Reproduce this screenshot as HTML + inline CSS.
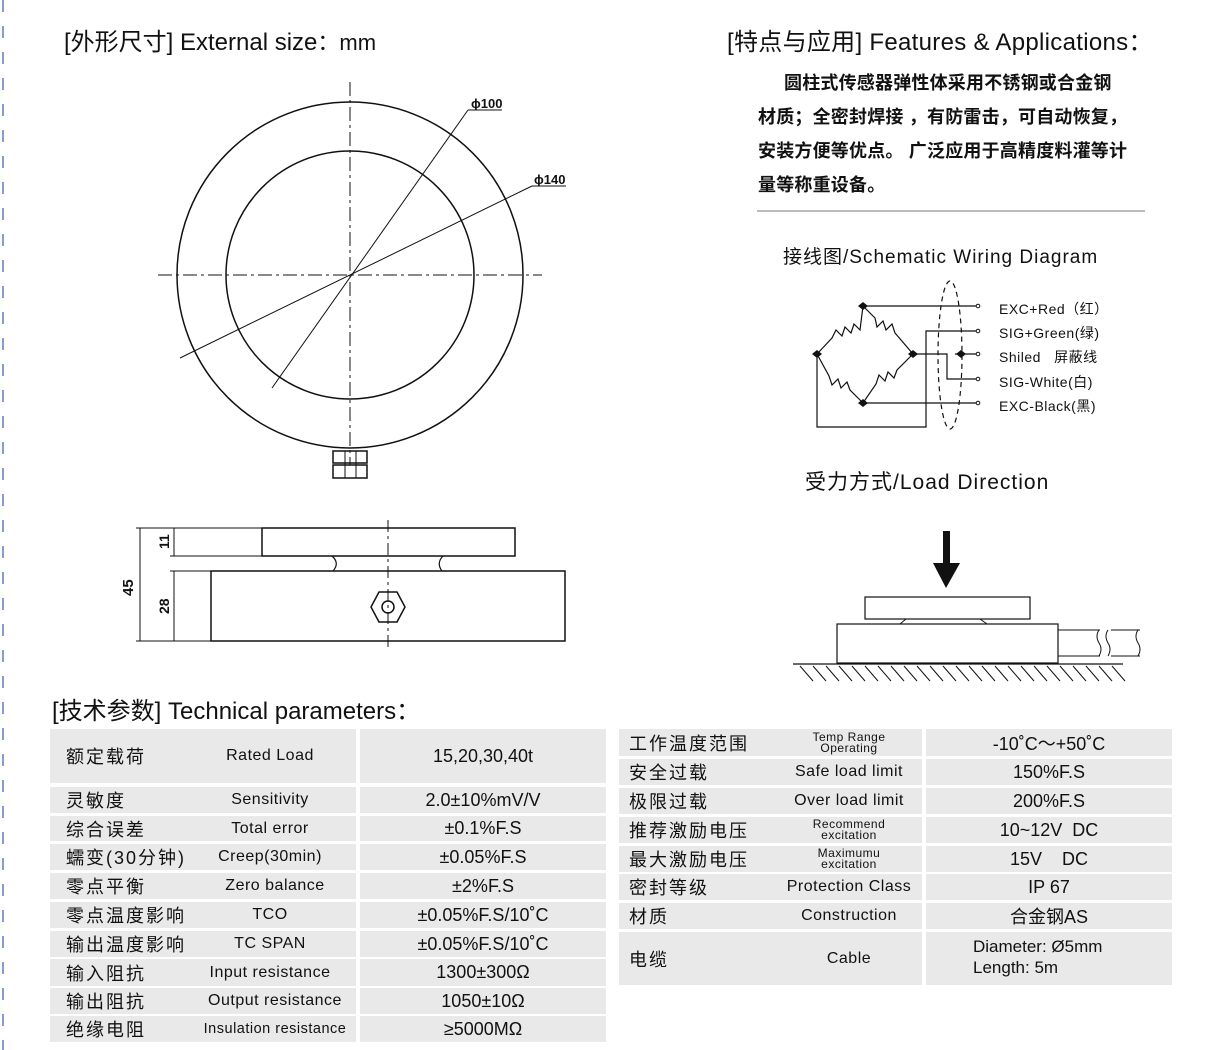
<!DOCTYPE html>
<html><head><meta charset="utf-8"><style>
body{margin:0;width:1230px;height:1050px;background:#fff;position:relative;overflow:hidden;font-family:"Liberation Sans","Noto Sans CJK SC",sans-serif;color:#111}
.t{position:absolute;white-space:nowrap}
.c{position:absolute;background:#e9e9e9;display:flex;align-items:center;font-size:17px}
.cn{position:absolute;left:16px;letter-spacing:2px;font-size:18px;top:50%;transform:translateY(-50%)}
.en{position:absolute;text-align:center;font-size:16px;letter-spacing:0.5px;top:50%;transform:translateY(-50%)}
.v{justify-content:center;font-size:18px}
svg{position:absolute;left:0;top:0}
</style></head><body>
<svg width="1230" height="1050" viewBox="0 0 1230 1050" fill="none" stroke="#111">
<line x1="3" y1="0" x2="3" y2="1050" stroke="#5a7fc0" stroke-width="1.5" stroke-dasharray="12,14"/>
<circle cx="350" cy="275" r="173" stroke-width="1.5"/>
<circle cx="350" cy="275" r="124" stroke-width="1.5"/>
<line x1="158" y1="275" x2="542" y2="275" stroke-dasharray="14,4,3,4" stroke-width="1"/>
<line x1="350" y1="82" x2="350" y2="465" stroke-dasharray="14,4,3,4" stroke-width="1"/>
<line x1="272" y1="388" x2="468" y2="110" stroke-width="1"/>
<line x1="468" y1="110" x2="502" y2="110" stroke-width="1"/>
<line x1="180" y1="358" x2="532" y2="186" stroke-width="1"/>
<line x1="532" y1="186" x2="566" y2="186" stroke-width="1"/>
<rect x="333" y="451" width="34" height="12" stroke-width="1.5"/>
<rect x="333" y="465" width="34" height="13" stroke-width="1.5"/>
<line x1="345" y1="451" x2="345" y2="478"/><line x1="356" y1="451" x2="356" y2="478"/>
<rect x="262" y="528" width="253" height="28" stroke-width="1.5"/>
<rect x="211" y="571" width="354" height="70" stroke-width="1.5"/>
<path d="M332 556 Q340 563 333 571 M443 556 Q436 563 442 571" stroke-width="1.2"/>
<line x1="388" y1="520" x2="388" y2="650" stroke-dasharray="12,4,3,4"/>
<polygon points="379,592 397,592 405,607 397,622 379,622 371,607" stroke-width="1.5"/>
<circle cx="388" cy="607" r="6" stroke-width="1.5"/>
<line x1="136" y1="528" x2="262" y2="528"/><line x1="170" y1="556" x2="262" y2="556"/>
<line x1="170" y1="571" x2="211" y2="571"/><line x1="136" y1="641" x2="211" y2="641"/>
<line x1="140" y1="528" x2="140" y2="641"/><line x1="174" y1="528" x2="174" y2="556"/><line x1="174" y1="571" x2="174" y2="641"/>
<g stroke-width="1.2">
<path d="M817 354 L832 338 l4 -8 l6 6 l3 -9 l6 6 l3 -9 l6 6 L863 306 L875 318 l2 9 l6 -6 l3 9 l6 -6 l3 9 L913 354 L897 370 l-3 8 l-6 -6 l-3 9 l-6 -6 l-3 9 L863 403 L850 390 l-3 -8 l-6 6 l-3 -9 l-6 6 l-3 -9 Z"/>
<path d="M863 306 H977 M817 354 V427 H926 V331 H977 M913 354 H947 V379 H977 M863 403 H977 M955 354 H977"/>
<ellipse cx="950" cy="355" rx="12" ry="74" stroke-dasharray="5,4"/>
</g>
<g fill="#fff"><circle cx="978" cy="306" r="1.8"/><circle cx="978" cy="331" r="1.8"/><circle cx="978" cy="354" r="1.8"/><circle cx="978" cy="379" r="1.8"/><circle cx="978" cy="403" r="1.8"/></g>
<g fill="#111" stroke="none"><path d="M863 302 l5 4 -5 4 -5 -4z M817 350 l5 4 -5 4 -5 -4z M913 350 l5 4 -5 4 -5 -4z M863 399 l5 4 -5 4 -5 -4z M961 350 l5 4 -5 4 -5 -4z"/></g>
<rect x="943" y="531" width="7" height="33" fill="#111" stroke="none"/>
<polygon points="933,563 960,563 946,588" fill="#111" stroke="none"/>
<rect x="865" y="597" width="165" height="22" stroke-width="1.2"/>
<path d="M906 619 L900 624 M980 619 L987 624" stroke-width="1"/>
<rect x="837" y="624" width="221" height="39" stroke-width="1.2"/>
<path d="M1058 630 H1100 M1058 656 H1100 M1111 630 H1140 M1111 656 H1140" stroke-width="1"/>
<path d="M1099 630 q-4 6 0 13 q4 6 0 13 M1108 630 q-4 6 0 13 q4 6 0 13 M1138 630 q-4 6 0 13 q4 6 0 13" stroke-width="1"/>
<line x1="793" y1="664" x2="1123" y2="664" stroke-width="1.2"/>
<path d="M800 666 l13 15 M813 666 l13 15 M826 666 l13 15 M839 666 l13 15 M852 666 l13 15 M865 666 l13 15 M878 666 l13 15 M891 666 l13 15 M904 666 l13 15 M917 666 l13 15 M930 666 l13 15 M943 666 l13 15 M956 666 l13 15 M969 666 l13 15 M982 666 l13 15 M995 666 l13 15 M1008 666 l13 15 M1021 666 l13 15 M1034 666 l13 15 M1047 666 l13 15 M1060 666 l13 15 M1073 666 l13 15 M1086 666 l13 15 M1099 666 l13 15 M1112 666 l13 15" stroke-width="1"/>
<line x1="757" y1="211" x2="1145" y2="211" stroke="#777"/>
<g fill="#111" stroke="none" font-family="Liberation Sans" font-size="14" font-weight="bold">
<text x="471" y="108" font-size="13">ϕ100</text>
<text x="534" y="184" font-size="13">ϕ140</text>
<text transform="translate(133,596) rotate(-90)" font-size="15">45</text>
<text transform="translate(169,549) rotate(-90)" font-size="14">11</text>
<text transform="translate(169,614) rotate(-90)" font-size="14">28</text>
</g>
</svg>
<div class="t" style="left:64px;top:22px;font-size:24px">[外形尺寸] External size<span style="font-size:22px">：mm</span></div>
<div class="t" style="left:727px;top:22px;font-size:24px;letter-spacing:0.3px">[特点与应用] Features &amp; Applications：</div>
<div class="t" style="left:758px;top:66px;font-size:18px;line-height:34px;font-weight:bold;letter-spacing:0.2px">&nbsp;&nbsp;&nbsp;&nbsp;&nbsp;圆柱式传感器弹性体采用不锈钢或合金钢<br>材质；全密封焊接 ，有防雷击，可自动恢复，<br>安装方便等优点。 广泛应用于高精度料灌等计<br>量等称重设备。</div>
<div class="t" style="left:783px;top:242px;font-size:19px;letter-spacing:1px">接线图/Schematic Wiring Diagram</div>
<div class="t" style="left:999px;top:297px;font-size:14px;line-height:24.2px;letter-spacing:0.5px">EXC+Red（红）<br>SIG+Green(绿)<br>Shiled&nbsp;&nbsp;&nbsp;屏蔽线<br>SIG-White(白)<br>EXC-Black(黑)</div>
<div class="t" style="left:805px;top:466px;font-size:21px;letter-spacing:1px">受力方式/Load Direction</div>
<div class="t" style="left:52px;top:691px;font-size:24px">[技术参数] Technical parameters：</div>

<div class="c" style="left:50px;top:729px;width:306px;height:54px"><span class="cn">额定载荷</span><span class="en" style="left:150px;width:140px">Rated Load</span></div>
<div class="c v" style="left:360px;top:729px;width:246px;height:54px">15,20,30,40t</div>
<div class="c" style="left:50px;top:787px;width:306px;height:26px"><span class="cn">灵敏度</span><span class="en" style="left:150px;width:140px">Sensitivity</span></div>
<div class="c v" style="left:360px;top:787px;width:246px;height:26px">2.0±10%mV/V</div>
<div class="c" style="left:50px;top:816px;width:306px;height:25px"><span class="cn">综合误差</span><span class="en" style="left:150px;width:140px">Total error</span></div>
<div class="c v" style="left:360px;top:816px;width:246px;height:25px">±0.1%F.S</div>
<div class="c" style="left:50px;top:844px;width:306px;height:26px"><span class="cn">蠕变(30分钟)</span><span class="en" style="left:150px;width:140px">Creep(30min)</span></div>
<div class="c v" style="left:360px;top:844px;width:246px;height:26px">±0.05%F.S</div>
<div class="c" style="left:50px;top:873px;width:306px;height:26px"><span class="cn">零点平衡</span><span class="en" style="left:150px;width:150px">Zero balance</span></div>
<div class="c v" style="left:360px;top:873px;width:246px;height:26px">±2%F.S</div>
<div class="c" style="left:50px;top:902px;width:306px;height:26px"><span class="cn">零点温度影响</span><span class="en" style="left:150px;width:140px">TCO</span></div>
<div class="c v" style="left:360px;top:902px;width:246px;height:26px">±0.05%F.S/10˚C</div>
<div class="c" style="left:50px;top:931px;width:306px;height:26px"><span class="cn">输出温度影响</span><span class="en" style="left:150px;width:140px">TC SPAN</span></div>
<div class="c v" style="left:360px;top:931px;width:246px;height:26px">±0.05%F.S/10˚C</div>
<div class="c" style="left:50px;top:959px;width:306px;height:27px"><span class="cn">输入阻抗</span><span class="en" style="left:150px;width:140px">Input resistance</span></div>
<div class="c v" style="left:360px;top:959px;width:246px;height:27px">1300±300Ω</div>
<div class="c" style="left:50px;top:988px;width:306px;height:26px"><span class="cn">输出阻抗</span><span class="en" style="left:150px;width:150px">Output resistance</span></div>
<div class="c v" style="left:360px;top:988px;width:246px;height:26px">1050±10Ω</div>
<div class="c" style="left:50px;top:1016px;width:306px;height:26px"><span class="cn">绝缘电阻</span><span class="en" style="left:145px;width:160px;font-size:14.5px">Insulation resistance</span></div>
<div class="c v" style="left:360px;top:1016px;width:246px;height:26px">≥5000MΩ</div>

<div class="c" style="left:619px;top:729px;width:303px;height:27px"><span class="cn" style="left:10px">工作温度范围</span><span class="en" style="left:160px;width:140px;font-size:12px;line-height:11px">Temp Range<br>Operating</span></div>
<div class="c v" style="left:926px;top:729px;width:246px;height:27px">-10˚C～+50˚C</div>
<div class="c" style="left:619px;top:759px;width:303px;height:26px"><span class="cn" style="left:10px">安全过载</span><span class="en" style="left:160px;width:140px">Safe load limit</span></div>
<div class="c v" style="left:926px;top:759px;width:246px;height:26px">150%F.S</div>
<div class="c" style="left:619px;top:788px;width:303px;height:26px"><span class="cn" style="left:10px">极限过载</span><span class="en" style="left:160px;width:140px">Over load limit</span></div>
<div class="c v" style="left:926px;top:788px;width:246px;height:26px">200%F.S</div>
<div class="c" style="left:619px;top:817px;width:303px;height:26px"><span class="cn" style="left:10px">推荐激励电压</span><span class="en" style="left:160px;width:140px;font-size:12px;line-height:11px">Recommend<br>excitation</span></div>
<div class="c v" style="left:926px;top:817px;width:246px;height:26px">10~12V&nbsp; DC</div>
<div class="c" style="left:619px;top:846px;width:303px;height:26px"><span class="cn" style="left:10px">最大激励电压</span><span class="en" style="left:160px;width:140px;font-size:12px;line-height:11px">Maximumu<br>excitation</span></div>
<div class="c v" style="left:926px;top:846px;width:246px;height:26px">15V&nbsp;&nbsp;&nbsp; DC</div>
<div class="c" style="left:619px;top:874px;width:303px;height:26px"><span class="cn" style="left:10px">密封等级</span><span class="en" style="left:155px;width:150px">Protection Class</span></div>
<div class="c v" style="left:926px;top:874px;width:246px;height:26px">IP 67</div>
<div class="c" style="left:619px;top:903px;width:303px;height:26px"><span class="cn" style="left:10px">材质</span><span class="en" style="left:160px;width:140px">Construction</span></div>
<div class="c v" style="left:926px;top:903px;width:246px;height:26px">合金钢AS</div>
<div class="c" style="left:619px;top:932px;width:303px;height:53px"><span class="cn" style="left:10px">电缆</span><span class="en" style="left:160px;width:140px">Cable</span></div>
<div class="c" style="left:926px;top:932px;width:246px;height:53px"><span style="position:absolute;left:47px;top:4px;line-height:21px">Diameter: Ø5mm<br>Length: 5m</span></div>
</body></html>
